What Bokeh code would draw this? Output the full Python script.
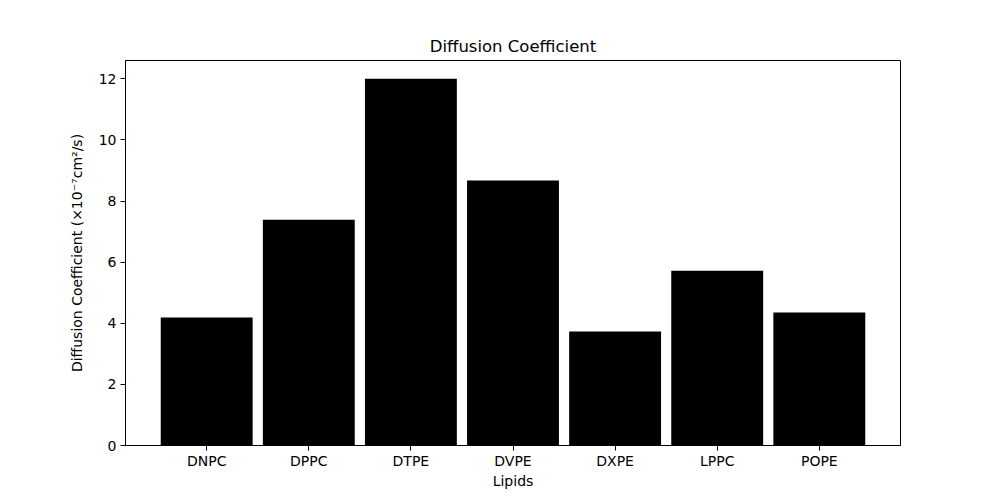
from bokeh.plotting import figure
from bokeh.models import FactorRange, Range1d, FixedTicker
from bokeh.embed import file_html
from bokeh.resources import INLINE

lipids = ["DNPC", "DPPC", "DTPE", "DVPE", "DXPE", "LPPC", "POPE"]
diffusion = [4.19, 7.39, 12.0, 8.67, 3.73, 5.72, 4.35]
y_ticks = [0, 2, 4, 6, 8, 10, 12]

p = figure(
    x_range=FactorRange(*lipids, range_padding=0.295, range_padding_units="absolute"),
    y_range=Range1d(0, 12.6),
    frame_width=775, frame_height=385,
    min_border_left=125, min_border_right=92, min_border_top=60, min_border_bottom=47,
    output_backend="svg", toolbar_location=None,
    title="Diffusion Coefficient",
)

p.vbar(x=lipids, top=diffusion, width=0.9, fill_color="black", line_color=None)

FONT = "DejaVu Sans"
p.title.align = "center"
p.title.text_font = FONT
p.title.text_font_size = "16.5px"
p.title.text_font_style = "normal"
p.title.text_color = "black"

p.xgrid.visible = False
p.ygrid.visible = False
p.outline_line_color = "black"
p.outline_line_width = 1
p.background_fill_color = "white"
p.border_fill_color = "white"

for ax in (p.xaxis[0], p.yaxis[0]):
    ax.major_label_text_font = FONT
    ax.major_label_text_font_size = "14px"
    ax.major_label_text_color = "black"
    ax.axis_label_text_font = FONT
    ax.axis_label_text_font_size = "14px"
    ax.axis_label_text_font_style = "normal"
    ax.axis_label_text_color = "black"
    ax.major_tick_out = 5
    ax.major_tick_in = 0
    ax.minor_tick_out = 0
    ax.minor_tick_in = 0
    ax.axis_line_color = "black"
    ax.major_tick_line_color = "black"

p.xaxis.axis_label = "Lipids"
p.yaxis.axis_label = "Diffusion Coefficient (×10⁻⁷cm²/s)"
p.yaxis.ticker = FixedTicker(ticks=y_ticks)
p.xaxis.major_label_standoff = 2
p.xaxis.axis_label_standoff = 1
p.yaxis.major_label_standoff = 4
p.yaxis.axis_label_standoff = 11

open("out.html", "w").write(file_html(p, INLINE))
